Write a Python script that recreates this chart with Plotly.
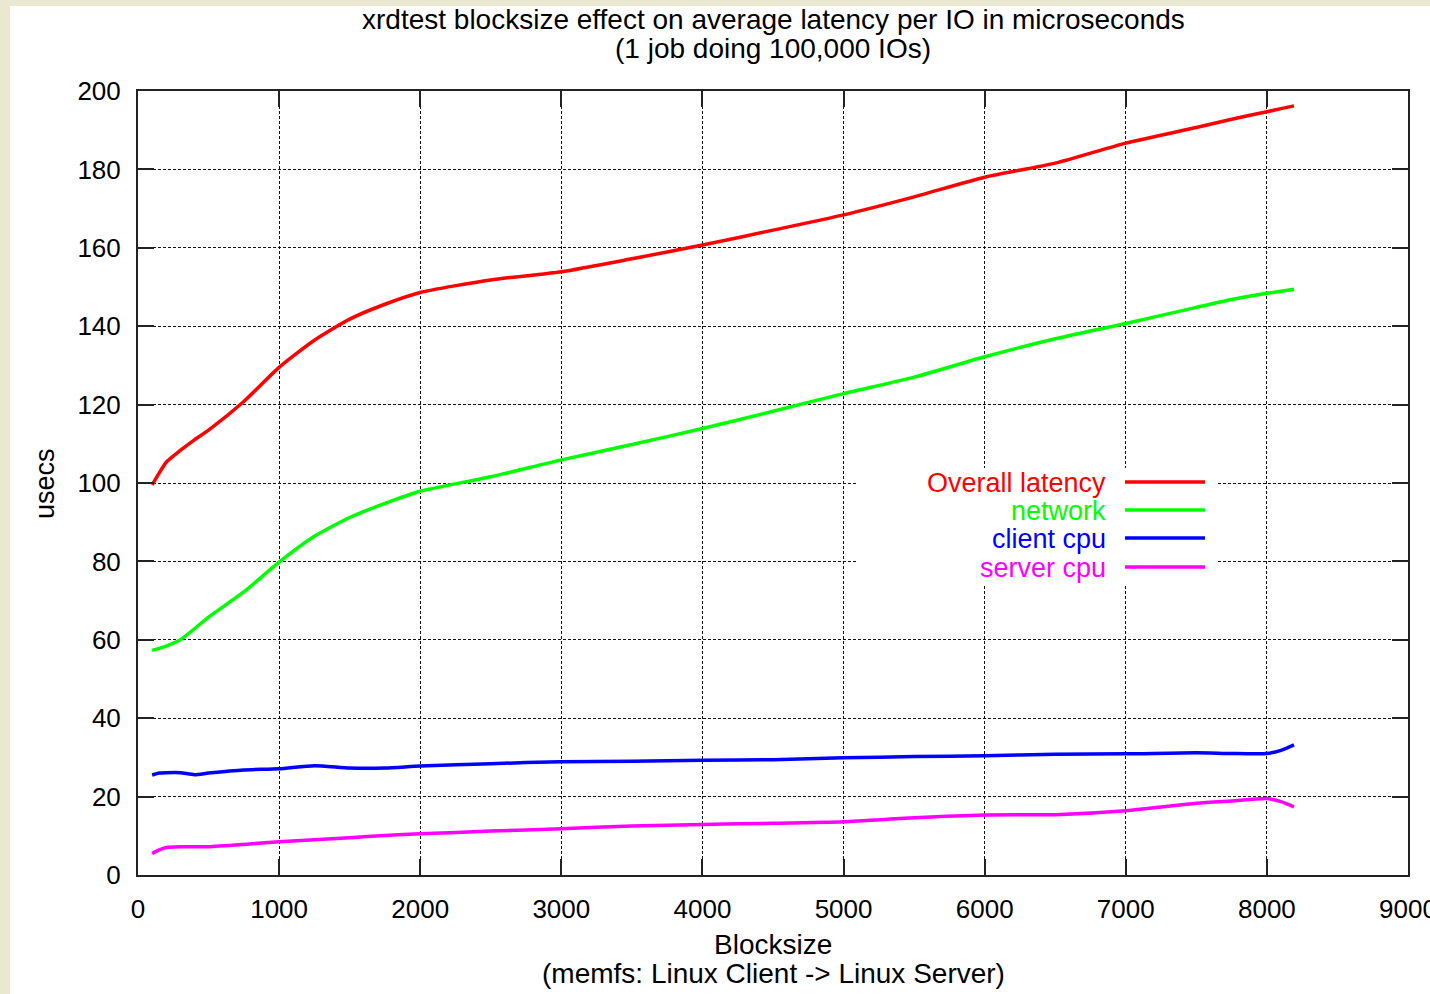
import plotly.graph_objects as go

blocksize = [100, 150, 200, 300, 400, 500, 750, 1000, 1250, 1500, 1750, 2000, 2500, 3000,
             3500, 4000, 4500, 5000, 5500, 6000, 6500, 7000, 7500, 7750, 8000, 8100, 8192]
overall = [99.5, 102.5, 105.3, 108.3, 111.0, 113.5, 120.8, 129.5, 136.4, 141.8, 145.6, 148.6,
           151.8, 153.9, 157.2, 160.7, 164.5, 168.4, 173.0, 178.0, 181.6, 186.7, 190.7,
           192.8, 194.7, 195.5, 196.2]
network = [57.3, 57.8, 58.4, 60.0, 62.8, 65.8, 72.2, 79.8, 86.4, 91.2, 94.8, 97.9, 101.6,
           105.9, 109.8, 113.9, 118.3, 122.8, 127.0, 132.2, 136.8, 140.7, 144.8, 146.8,
           148.4, 148.9, 149.4]
client_cpu = [25.5, 26.0, 26.1, 26.1, 25.6, 26.0, 26.8, 27.1, 27.9, 27.3, 27.3, 27.8, 28.4,
              28.9, 29.0, 29.3, 29.4, 29.9, 30.2, 30.4, 30.8, 30.9, 31.2, 31.0, 31.0, 31.8,
              33.2]
server_cpu = [5.5, 6.4, 7.0, 7.2, 7.2, 7.2, 7.8, 8.5, 9.0, 9.5, 10.1, 10.5, 11.2, 11.8,
              12.5, 12.9, 13.2, 13.6, 14.6, 15.3, 15.4, 16.4, 18.3, 18.9, 19.5, 18.7, 17.4]

series_names = ["Overall latency", "network", "client cpu", "server cpu"]
series_values = [overall, network, client_cpu, server_cpu]
series_colors = ["#ff0000", "#00ff00", "#0000ff", "#ff00ff"]

title_lines = ["xrdtest blocksize effect on average latency per IO in microseconds",
               "(1 job doing 100,000 IOs)"]
xlabel_lines = ["Blocksize", "(memfs: Linux Client -> Linux Server)"]
ylabel = "usecs"

FONT = "Liberation Sans, Arial, Helvetica, sans-serif"

fig = go.Figure()
for name, vals, col in zip(series_names, series_values, series_colors):
    fig.add_trace(go.Scatter(x=blocksize, y=vals, mode="lines", name=name,
                             line=dict(color=col, width=3.5, shape="spline", smoothing=0.6),
                             showlegend=False))

W, H = 1430, 994
L, R, T, B = 138, 22, 91, 119
pw, ph = W - L - R, H - T - B


def px_x(px):
    return (px - L) / pw


def px_y(py):
    return (H - B - py) / ph


shapes = []
# white page with beige border on left/top
shapes.append(dict(type="rect", xref="paper", yref="paper", layer="below",
                   x0=px_x(10), x1=px_x(1500), y0=px_y(1100), y1=px_y(6),
                   fillcolor="white", line=dict(width=0)))
# legend mask
shapes.append(dict(type="rect", xref="paper", yref="paper", layer="above",
                   x0=px_x(858), x1=px_x(1218), y0=px_y(585), y1=px_y(468),
                   fillcolor="white", line=dict(width=0)))
annotations = []
leg_y = [482, 510, 538, 567]
for name, col, yy in zip(series_names, series_colors, leg_y):
    shapes.append(dict(type="line", xref="paper", yref="paper", layer="above",
                       x0=px_x(1125), x1=px_x(1205), y0=px_y(yy), y1=px_y(yy),
                       line=dict(color=col, width=3.5)))
    annotations.append(dict(text=name, xref="paper", yref="paper", x=px_x(1108), y=px_y(yy + 1),
                            xanchor="right", yanchor="middle", showarrow=False,
                            font=dict(family=FONT, size=27, color=col)))

for txt, yy in zip(title_lines, [20, 48]):
    annotations.append(dict(text=txt, xref="paper", yref="paper", x=0.5, y=px_y(yy),
                            xanchor="center", yanchor="middle", showarrow=False,
                            font=dict(family=FONT, size=28, color="black")))
for txt, yy in zip(xlabel_lines, [944, 973]):
    annotations.append(dict(text=txt, xref="paper", yref="paper", x=0.5, y=px_y(yy),
                            xanchor="center", yanchor="middle", showarrow=False,
                            font=dict(family=FONT, size=28, color="black")))
annotations.append(dict(text=ylabel, xref="paper", yref="paper", x=px_x(45), y=px_y(483),
                        xanchor="center", yanchor="middle", showarrow=False, textangle=-90,
                        font=dict(family=FONT, size=27, color="black")))

axis_common = dict(showline=True, linecolor="#222222", linewidth=2, mirror="ticks",
                   ticks="inside", ticklen=16, tickwidth=2, tickcolor="#222222",
                   showgrid=True, gridcolor="#111111", gridwidth=1, griddash="3px,2px",
                   zeroline=False, tickfont=dict(family=FONT, size=26, color="black"),
                   ticklabeloverflow="allow", automargin=False)

fig.update_xaxes(range=[0, 9000], dtick=1000, tick0=0, ticklabelstandoff=10, **axis_common)
fig.update_yaxes(range=[0, 200], dtick=20, tick0=0, ticklabelstandoff=10, **axis_common)

fig.update_layout(width=W, height=H, margin=dict(l=L, r=R, t=T, b=B, autoexpand=False),
                  paper_bgcolor="#ebe8d2", plot_bgcolor="white",
                  shapes=shapes, annotations=annotations, showlegend=False)

fig.write_html("out.html")
